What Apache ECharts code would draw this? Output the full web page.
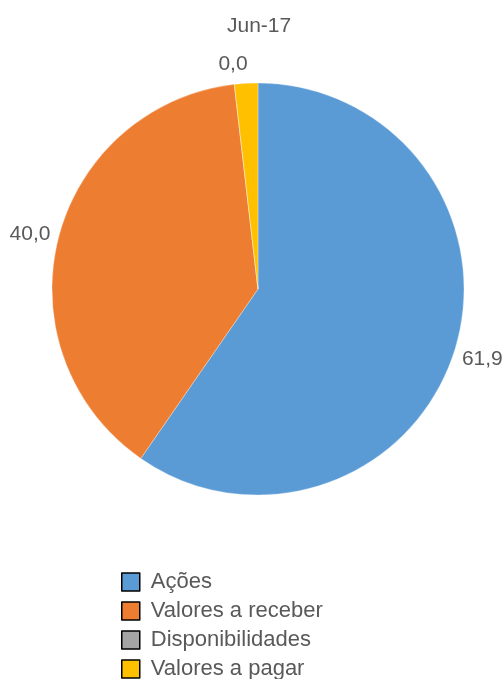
<!DOCTYPE html>
<html>
<head>
<meta charset="utf-8">
<script src="https://cdn.jsdelivr.net/npm/echarts@6/dist/echarts.min.js"></script>
<style>
html,body{margin:0;padding:0;background:#fff;}
#chart{width:504px;height:679px;}
</style>
</head>
<body>
<div id="chart"></div>
<script>
const title = 'Jun-17';
const categories = ['Ações', 'Valores a receber', 'Disponibilidades', 'Valores a pagar'];
const values = [61.9, 40.0, 0.0, 1.9];
const showLabel = [true, true, true, false];
const colors = ['#5B9BD5', '#ED7D31', '#A5A5A5', '#FFC000'];

const FONT = 'Liberation Sans, Arial, sans-serif';
const TXT = '#595959';

// label nudges (styling, kept apart from data)
const labelNudge = { 'Disponibilidades': [2, 9], 'Valores a receber': [0, 2] };

const pieData = categories.map((c, i) => ({ name: c, value: values[i], itemStyle: { color: colors[i] } }));
const labelData = categories.map((c, i) => ({
  name: c, value: values[i],
  itemStyle: { color: 'rgba(0,0,0,0)' },
  label: { show: showLabel[i], offset: labelNudge[c] || [0, 0] }
}));

const chart = echarts.init(document.getElementById('chart'));
chart.setOption({
  animation: false,
  backgroundColor: '#fff',
  title: {
    text: title, left: 222, top: 11,
    textStyle: { fontFamily: FONT, fontSize: 21, fontWeight: 'normal', color: TXT }
  },
  legend: {
    orient: 'vertical', left: 116, top: 566, height: 140,
    data: categories,
    icon: 'rect', itemWidth: 18, itemHeight: 18, itemGap: 7,
    itemStyle: { borderColor: '#000', borderWidth: 1.5 },
    textStyle: { fontFamily: FONT, fontSize: 22, color: TXT, padding: [0, 0, 0, 6] },
    selectedMode: false
  },
  series: [
    {
      type: 'pie', center: [258, 289], radius: [0, 206],
      startAngle: 90, clockwise: true,
      data: pieData,
      itemStyle: { borderColor: 'rgba(255,255,255,0.6)', borderWidth: 0.5 },
      label: { show: false }, labelLine: { show: false },
      emphasis: { disabled: true }, silent: true
    },
    {
      type: 'pie', center: [258, 289], radius: [206, 258],
      startAngle: 90, clockwise: true,
      data: labelData,
      label: {
        position: 'inside', fontFamily: FONT, fontSize: 21, color: TXT,
        formatter: p => p.value.toFixed(1).replace('.', ',')
      },
      labelLine: { show: false },
      emphasis: { disabled: true }, silent: true
    }
  ]
});
</script>
</body>
</html>
